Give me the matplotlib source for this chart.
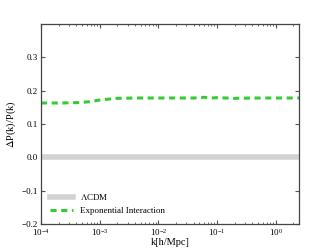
import numpy as np
import matplotlib
matplotlib.use("Agg")
import matplotlib.pyplot as plt

plt.rcParams['font.family'] = ['Liberation Serif', 'DejaVu Serif']
plt.rcParams['mathtext.fontset'] = 'stix'

k_vals = [1e-4, 2e-4, 4e-4, 7e-4, 1e-3, 2e-3, 4e-3, 1e-2, 2e-2, 4e-2, 6e-2, 8e-2, 1e-1, 2e-1, 4e-1, 1.0, 2.5]
ratio_exp = [0.163, 0.163, 0.164, 0.167, 0.172, 0.177, 0.178, 0.178, 0.178, 0.178, 0.180, 0.178, 0.179, 0.177, 0.178, 0.178, 0.178]
ratio_lcdm = [0.0] * len(k_vals)

fig = plt.figure(figsize=(3.32, 2.49), dpi=100)
ax = fig.add_axes([41/332, 25/249, 258/332, 200/249])
ax.plot(k_vals, ratio_lcdm, color='#d3d3d3', lw=4, label=r'$\Lambda$CDM')
ax.plot(k_vals, ratio_exp, color='#33cc33', lw=2.2, ls=(0, (2, 1.5)), label='Exponential Interaction')
ax.set_xscale('log')
ax.set_xlim(1e-4, 2.5)
ax.set_ylim(-0.2, 0.4)
ax.set_yticks([-0.2, -0.1, 0.0, 0.1, 0.2, 0.3])
ax.tick_params(which='both', direction='in', top=True, right=True, labelsize=6.5, color='#555555')
ax.tick_params(axis='x', pad=2)
ax.tick_params(axis='y', pad=2.5)
ax.tick_params(which='major', length=3)
ax.tick_params(which='minor', length=1.5)
for s in ax.spines.values():
    s.set_linewidth(0.9)
    s.set_color('#444444')
ax.set_xlabel('k[h/Mpc]', fontsize=7.5, labelpad=0)
ax.set_ylabel(r'$\Delta$P(k)/P(k)', fontsize=7.5, labelpad=2)
ax.legend(loc='lower left', fontsize=6.5, frameon=False, handlelength=2.5, borderaxespad=0.6)
fig.savefig('out.png', dpi=100)
